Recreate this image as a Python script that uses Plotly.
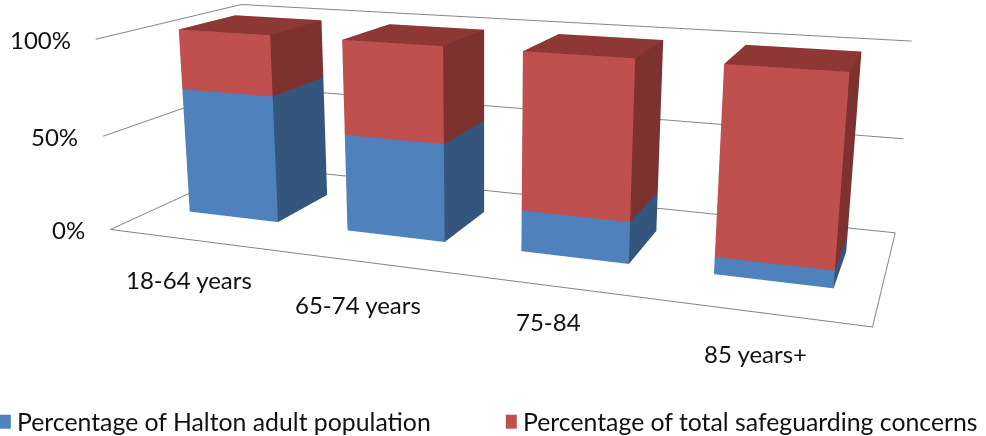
import plotly.graph_objects as go

categories = ["18-64 years", "65-74 years", "75-84", "85 years+"]
halton_pct = [68, 51, 21, 8.5]
concerns_pct = [32, 49, 79, 91.5]
tick_vals = [0, 50, 100]
tick_text = ["0%", "50%", "100%"]
series_names = ["Percentage of Halton adult population", "Percentage of total safeguarding concerns"]

FONT = "Lato"
TEXT = "#111111"
GRID = "#868686"
BLUE = ["#4F81BD", "#3A6290", "#34557C"]   # front, top, side
RED = ["#C0504D", "#8E3836", "#7D3230"]
BAR_W, Y0, Y1 = 0.5709, 0.3049, 0.7079

# The scene's focal length is tied to its height, so the matching long lens needs an
# oversized figure, which is then offset so the 986x436 window shows the right part.
FIG_W, FIG_H = 1006, 1076
SHIFT_X, SHIFT_Y = 19.8, 366.7


def boxes(lows, highs, colors, name):
    xs, ys, zs, ii, jj, kk, fc = [], [], [], [], [], [], []
    front, top, side = colors
    for n, (lo, hi) in enumerate(zip(lows, highs)):
        x0, x1 = n + 0.5 - BAR_W / 2, n + 0.5 + BAR_W / 2
        b = len(xs)
        for z in (lo, hi):
            xs += [x0, x1, x1, x0]
            ys += [Y0, Y0, Y1, Y1]
            zs += [z] * 4
        quads = [((0, 1, 5, 4), front), ((4, 5, 6, 7), top), ((1, 2, 6, 5), side),
                 ((0, 3, 7, 4), side), ((3, 2, 6, 7), side), ((0, 1, 2, 3), side)]
        for (p, q, r, s), col in quads:
            ii += [b + p, b + p]
            jj += [b + q, b + r]
            kk += [b + r, b + s]
            fc += [col, col]
    return go.Mesh3d(x=xs, y=ys, z=zs, i=ii, j=jj, k=kk, facecolor=fc, flatshading=True, name=name,
                     lighting=dict(ambient=1, diffuse=0, specular=0, fresnel=0),
                     hoverinfo="skip", showlegend=False)


fig = go.Figure()
fig.add_trace(boxes([0] * 4, halton_pct, BLUE, series_names[0]))
fig.add_trace(boxes(halton_pct, [a + b for a, b in zip(halton_pct, concerns_pct)], RED, series_names[1]))
fig.add_trace(go.Scatter3d(x=[0, 4, 4], y=[0, 0, 1], z=[0] * 3, mode="lines",
                           line=dict(color=GRID, width=2), hoverinfo="skip", showlegend=False))

off = dict(showbackground=False, showgrid=False, zeroline=False, showspikes=False, showline=False,
           ticks="", showticklabels=False, title="")
cat_offsets = [(0, 40), (-1, 43), (1, 36), (-2, 41)]
tfont = dict(family=FONT, size=24, color=TEXT)
scene_notes = [dict(x=n + 0.5, y=0, z=0, text=c, showarrow=False, xshift=ox, yshift=-oy, font=tfont)
               for n, (c, (ox, oy)) in enumerate(zip(categories, cat_offsets))]
scene_notes += [dict(x=0, y=0, z=v, text=t, showarrow=False, xanchor="right", xshift=-23, font=tfont)
                for v, t in zip(tick_vals, tick_text)]

leg_font = dict(family=FONT, size=24.8, color=TEXT)


def paper_x(v):
    return (v + SHIFT_X) / FIG_W


def paper_y(v):
    return 1 - (v + SHIFT_Y) / FIG_H


paper_notes, paper_shapes = [], []
for name, col, sx, tx in zip(series_names, [BLUE[0], RED[0]], [0, 506], [15, 521]):
    paper_notes.append(dict(text=name, x=paper_x(tx), y=paper_y(422), xref="paper", yref="paper",
                            xanchor="left", yanchor="middle", showarrow=False, font=leg_font))
    paper_shapes.append(dict(type="rect", xref="paper", yref="paper", x0=paper_x(sx), x1=paper_x(sx + 11),
                             y0=paper_y(429), y1=paper_y(415), fillcolor=col, line_width=0))

fig.update_layout(
    width=FIG_W, height=FIG_H, margin=dict(l=0, r=0, t=0, b=0), paper_bgcolor="white",
    font=dict(family=FONT, size=24, color=TEXT), showlegend=False,
    annotations=paper_notes, shapes=paper_shapes,
    scene=dict(
        domain=dict(x=[0, 1], y=[0, 1]),
        xaxis=dict(off, range=[0, 4], tickvals=[0.5, 1.5, 2.5, 3.5]),
        yaxis=dict(off, range=[0, 1]),
        zaxis=dict(off, showgrid=True, gridcolor=GRID, gridwidth=2, range=[0, 100], tickvals=tick_vals,
                   ticktext=tick_text),
        aspectmode="manual", aspectratio=dict(x=1.8, y=0.6557, z=0.4698),
        camera=dict(eye=dict(x=1.0340, y=-2.8440, z=0.7231), center=dict(x=-0.0201, y=-0.0724, z=-0.0668),
                    up=dict(x=0.0021, y=0, z=1), projection=dict(type="perspective")),
        annotations=scene_notes,
    ),
)
fig.write_html("out.html", config=dict(displayModeBar=False),
               post_script=("document.documentElement.style.overflow='hidden';"
                            "document.body.style.overflow='hidden';document.body.style.margin='0';"
                            "var g=document.querySelector('.plotly-graph-div');g.style.position='absolute';"
                            f"g.style.left='{-SHIFT_X}px';g.style.top='{-SHIFT_Y}px';"))
